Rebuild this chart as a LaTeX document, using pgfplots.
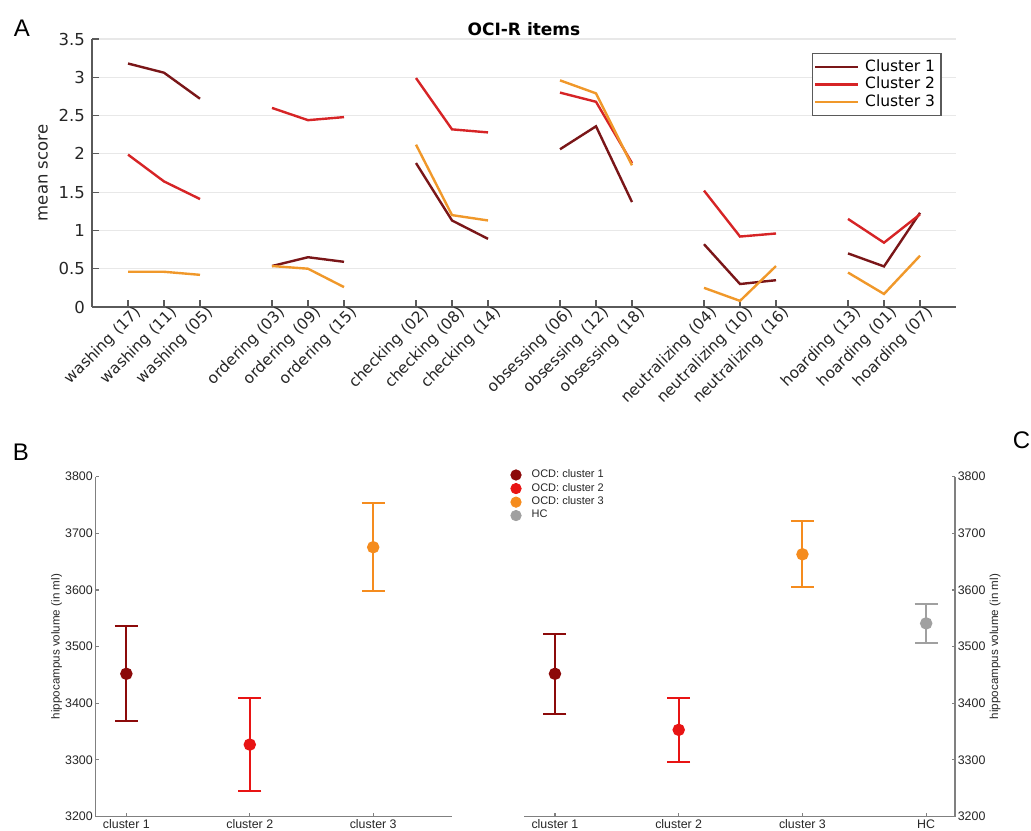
\documentclass[border=0pt]{standalone}
\usepackage{pgfplots}
\usepackage{pgfplotstable}
\pgfplotsset{compat=1.18}
\usepackage{fontspec}
\setmainfont{DejaVu Sans}
\newfontfamily\arial{Liberation Sans}
\definecolor{cA}{RGB}{122,22,24}
\definecolor{cB}{RGB}{214,36,38}
\definecolor{cC}{RGB}{240,152,42}
\definecolor{bA}{RGB}{140,10,10}
\definecolor{bB}{RGB}{232,20,20}
\definecolor{bC}{RGB}{245,140,30}
\definecolor{bH}{RGB}{160,160,160}
\definecolor{axgray}{RGB}{90,90,90}
\definecolor{txt}{RGB}{38,38,38}

\pgfplotstableread{
x c1 c2 c3
1 3.18 1.99 0.46
2 3.06 1.64 0.46
3 2.72 1.41 0.42
4 nan nan nan
5 0.535 2.60 0.535
6 0.65 2.44 0.50
7 0.59 2.48 0.26
8 nan nan nan
9 1.88 2.99 2.12
10 1.13 2.32 1.20
11 0.89 2.28 1.13
12 nan nan nan
13 2.06 2.80 2.96
14 2.36 2.68 2.79
15 1.37 1.88 1.85
16 nan nan nan
17 0.82 1.52 0.25
18 0.30 0.92 0.08
19 0.35 0.96 0.535
20 nan nan nan
21 0.70 1.15 0.45
22 0.53 0.84 0.17
23 1.23 1.21 0.67
}\ociTable

\pgfplotsset{
  errstyle/.style={#1, line width=1pt, mark=*, mark size=2.6pt, mark options={fill=#1, draw=#1},
    error bars/.cd, y dir=both, y explicit,
    error bar style={#1, line width=1pt},
    error mark options={rotate=90, #1, line width=1pt, mark size=5.75pt}},
}

\begin{document}
\begin{tikzpicture}
\useasboundingbox (0,0) rectangle (515.5pt,415pt);

% ---------------- Panel A ----------------
\begin{axis}[
  at={(46pt,261.5pt)}, anchor=south west,
  scale only axis, width=432pt, height=134pt,
  xmin=0, xmax=24, ymin=0, ymax=3.5,
  axis x line*=bottom, axis y line*=left,
  axis line style={axgray, line width=0.6pt},
  xtick={1,2,3,5,6,7,9,10,11,13,14,15,17,18,19,21,22,23},
  xticklabels={washing (17),washing (11),washing (05),ordering (03),ordering (09),ordering (15),checking (02),checking (08),checking (14),obsessing (06),obsessing (12),obsessing (18),neutralizing (04),neutralizing (10),neutralizing (16),hoarding (13),hoarding (01),hoarding (07)},
  ytick={0,0.5,1,1.5,2,2.5,3,3.5},
  yticklabels={0,0.5,1,1.5,2,2.5,3,3.5},
  tick align=inside, major tick length=3.5pt,
  tick style={axgray, line width=0.6pt},
  ymajorgrids, grid style={gray!18, line width=0.6pt},
  x tick label style={rotate=45, anchor=east, font=\fontsize{7.7}{8}\selectfont, text=txt, xshift=6pt, yshift=-5pt},
  y tick label style={font=\fontsize{8.25}{9}\selectfont, text=txt},
  ylabel={mean score},
  ylabel style={font=\fontsize{8.25}{9}\selectfont, text=txt, at={(axis description cs:-0.0567,0.5)}, anchor=center},
  title={\bfseries OCI-R items}, title style={font=\fontsize{8.5}{9}\selectfont, yshift=-8pt},
  unbounded coords=jump,
  legend style={at={(1,1)}, anchor=north east, xshift=-7.2pt, yshift=-7pt,
     font=\fontsize{7.75}{8.5}\selectfont, draw=axgray, line width=0.6pt,
     inner sep=1pt, row sep=-2.65pt,
     /tikz/every odd column/.append style={column sep=1pt}},
  legend cell align=left,
  legend image code/.code={\draw[#1, line width=1.2pt] (0pt,0pt) -- (21.3pt,0pt);},
]
\addplot[cA, line width=1.2pt] table[x=x, y=c1] {\ociTable};
\addplot[cB, line width=1.2pt] table[x=x, y=c2] {\ociTable};
\addplot[cC, line width=1.2pt] table[x=x, y=c3] {\ociTable};
\legend{Cluster 1, Cluster 2, Cluster 3}
\end{axis}

% ---------------- Panel B ----------------
\begin{axis}[
  at={(47.75pt,6.75pt)}, anchor=south west,
  scale only axis, width=178.1pt, height=169.9pt,
  xmin=0.75, xmax=3.636, ymin=3200, ymax=3800,
  axis x line*=bottom, axis y line*=left,
  axis line style={gray, line width=0.6pt},
  tick style={gray, line width=0.6pt}, tick align=inside, major tick length=1.6pt,
  xtick={1,2,3}, xticklabels={cluster 1,cluster 2,cluster 3},
  ytick={3200,3300,...,3800},
  /pgf/number format/assume math mode=true,
  /pgf/number format/1000 sep={},
  tick label style={font=\arial\fontsize{6.2}{7}\selectfont, text=txt},
  y tick label style={inner sep=1.2pt},
  x tick label style={inner sep=1.5pt},
  ylabel={hippocampus volume (in ml)},
  ylabel style={font=\arial\fontsize{5.8}{7}\selectfont, text=txt, at={(axis description cs:-0.109,0.5)}, anchor=center},
  clip=false,
]
\addplot[errstyle=bA] coordinates {(1,3452) += (0,85) -= (0,83.5)};
\addplot[errstyle=bB] coordinates {(2,3327) += (0,82) -= (0,82)};
\addplot[errstyle=bC] coordinates {(3,3675.5) += (0,78.5) -= (0,77.5)};
\end{axis}

% ---------------- Panel C ----------------
\begin{axis}[
  at={(262.2pt,6.75pt)}, anchor=south west,
  scale only axis, width=215.3pt, height=169.9pt,
  xmin=0.753, xmax=4.233, ymin=3200, ymax=3800,
  axis x line*=bottom, axis y line*=right,
  axis line style={gray, line width=0.6pt},
  tick style={gray, line width=0.6pt}, tick align=inside, major tick length=1.6pt,
  xtick={1,2,3,4}, xticklabels={cluster 1,cluster 2,cluster 3,HC},
  ytick={3200,3300,...,3800},
  /pgf/number format/assume math mode=true,
  /pgf/number format/1000 sep={},
  tick label style={font=\arial\fontsize{6.2}{7}\selectfont, text=txt},
  y tick label style={inner sep=1.2pt},
  x tick label style={inner sep=1.5pt},
  ylabel={hippocampus volume (in ml)},
  ylabel style={font=\arial\fontsize{5.8}{7}\selectfont, text=txt, at={(axis description cs:1.093,0.5)}, anchor=center, rotate=0},
  clip=false,
  legend style={at={(0,1)}, anchor=north west, xshift=-7pt, yshift=5.8pt,
     draw=none, fill=none, font=\arial\fontsize{5.5}{6}\selectfont, text=txt,
     inner sep=0pt, row sep=-2.7pt,
     /tikz/every odd column/.append style={column sep=3.25pt}},
  legend cell align=left,
  legend image code/.code={\draw[#1] plot coordinates {(2.6pt,0pt)};},
]
\addlegendimage{only marks, mark=*, mark size=2.6pt, bA, mark options={fill=bA}}
\addlegendentry{OCD: cluster 1}
\addlegendimage{only marks, mark=*, mark size=2.6pt, bB, mark options={fill=bB}}
\addlegendentry{OCD: cluster 2}
\addlegendimage{only marks, mark=*, mark size=2.6pt, bC, mark options={fill=bC}}
\addlegendentry{OCD: cluster 3}
\addlegendimage{only marks, mark=*, mark size=2.6pt, bH, mark options={fill=bH}}
\addlegendentry{HC}
\addplot[forget plot, errstyle=bA] coordinates {(1,3452) += (0,70) -= (0,70.5)};
\addplot[forget plot, errstyle=bB] coordinates {(2,3353) += (0,56.5) -= (0,57)};
\addplot[forget plot, errstyle=bC] coordinates {(3,3663) += (0,58) -= (0,58)};
\addplot[forget plot, errstyle=bH] coordinates {(4,3541) += (0,35) -= (0,35)};
\end{axis}

% panel letters
\node[font=\arial\fontsize{12}{12}\selectfont] at (11pt,401pt) {A};
\node[font=\arial\fontsize{12}{12}\selectfont] at (10.5pt,189pt) {B};
\node[font=\arial\fontsize{12}{12}\selectfont] at (510.75pt,194.75pt) {C};
\end{tikzpicture}
\end{document}
